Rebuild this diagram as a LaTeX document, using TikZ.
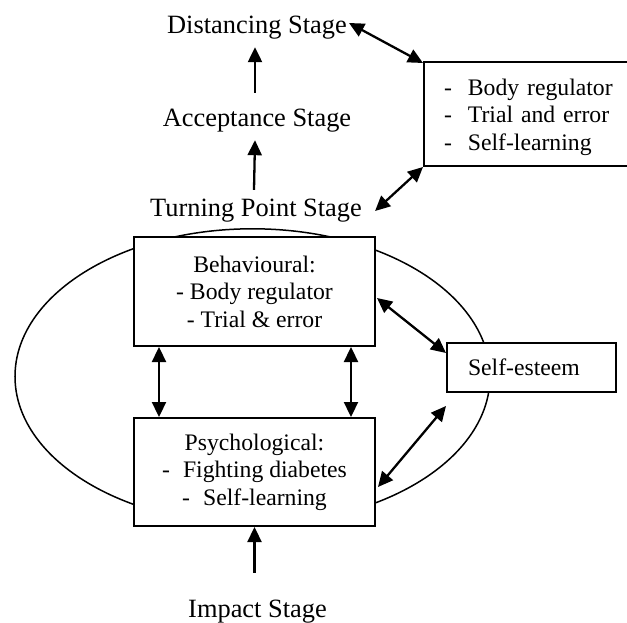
\documentclass[tikz,border=0pt]{standalone}
\usepackage{fontspec}
\setmainfont{Liberation Serif}
\usetikzlibrary{arrows.meta,calc}
\newcommand\lblfont{\fontsize{26.4pt}{30pt}\selectfont}
\newcommand\boxfont{\fontsize{23.7pt}{27.5pt}\selectfont}
\begin{document}
\begin{tikzpicture}[x=1pt,y=-1pt,
  lbl/.style={font=\lblfont, inner sep=0pt, text height=18pt, text depth=6pt, anchor=base},
  box/.style={draw, line width=2pt, fill=white, font=\boxfont},
  arr/.style={line width=2.3pt, -{Triangle[length=15pt,width=14pt]}},
  darr/.style={line width=2.3pt, {Triangle[length=15pt,width=14pt]}-{Triangle[length=15pt,width=14pt]}}]
\useasboundingbox (0,0) rectangle (627,623);
\clip (0,0) rectangle (627,623);
% ellipse behind the boxes
\draw[line width=1.5pt] (252.5,376.5) ellipse [x radius=237.5pt, y radius=147.7pt];
% boxes
\node[box, minimum width=241pt, minimum height=109pt, align=center] (beh) at (254.5,291.5)
  {Behavioural:\\- Body regulator\\- Trial \& error};
\node[box, minimum width=241pt, minimum height=108pt, align=center] (psy) at (254.5,472)
  {Psychological:\\-\hspace{0.55em}Fighting diabetes\\-\hspace{0.55em}Self-learning};
\node[box, anchor=west, minimum height=49pt, text width=127pt, inner xsep=21pt, align=left] (se) at (446,367.5)
  {Self-esteem};
\node[box, anchor=north west, minimum height=104pt, text width=180pt, inner xsep=20pt, align=left] (trbox) at (423,61)
  {\rule{0pt}{23pt}-\hspace{16pt}Body regulator\\-\hspace{16pt}Trial and error\\-\hspace{16pt}Self-learning};
% stage labels
\node[lbl] (dist) at (257,33.5) {Distancing Stage};
\node[lbl] (acc) at (257,127) {Acceptance Stage};
\node[lbl] (turn) at (256,217) {Turning Point Stage};
\node[lbl] (imp) at (257.5,617) {Impact Stage};
% connectors
\draw[arr] ([xshift=-2pt,yshift=16pt]acc.north) -- ([xshift=-2pt,yshift=-7.5pt]dist.south);
\draw[arr] ([xshift=-2pt,yshift=9pt]turn.north) -- ([xshift=-2pt,yshift=-7pt]acc.south);
\draw[darr] ([xshift=2pt,yshift=4.5pt]dist.east) -- ([yshift=-2pt]trbox.north west);
\draw[darr] (trbox.south west) -- ([xshift=13pt]turn.east);
\draw[darr] ([xshift=-95.5pt]beh.south) -- ([xshift=-95.5pt]psy.north);
\draw[darr] ([xshift=96.5pt]beh.south) -- ([xshift=96.5pt]psy.north);
\draw[darr] ([xshift=1pt,yshift=-6.5pt]beh.east) -- ([yshift=-11pt]se.north west);
\draw[darr] ([xshift=2pt,yshift=-15pt]psy.east) -- ([yshift=-13pt]se.south west);
\draw[arr] ($(imp.north -| psy.south)+(0,-26)$) -- (psy.south);
\end{tikzpicture}
\end{document}
